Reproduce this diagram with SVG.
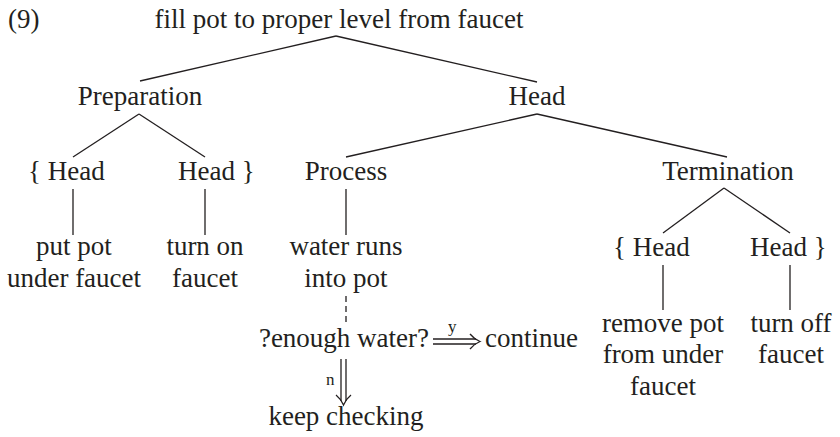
<svg xmlns="http://www.w3.org/2000/svg" width="840" height="437" viewBox="0 0 840 437">
  <style>
    text { font-family: "Liberation Serif", "Times New Roman", serif; font-size: 27px; fill: #231f20; }
    .c { text-anchor: middle; }
    .s { font-size: 17px; }
    .ln { stroke: #231f20; stroke-width: 1.3; fill: none; }
    .dash { stroke-dasharray: 6 4; }
  </style>
  <rect width="840" height="437" fill="#ffffff"/>

  <text x="8" y="28">(9)</text>

  <g id="connectors">
    <line class="ln" x1="336" y1="36" x2="140" y2="81"/>
    <line class="ln" x1="336" y1="36" x2="537" y2="82"/>
    <line class="ln" x1="139" y1="114" x2="73" y2="157"/>
    <line class="ln" x1="139" y1="114" x2="205" y2="157"/>
    <line class="ln" x1="537" y1="114" x2="346" y2="157"/>
    <line class="ln" x1="537" y1="114" x2="727" y2="157"/>
    <line class="ln" x1="73" y1="189" x2="73" y2="235"/>
    <line class="ln" x1="205" y1="189" x2="205" y2="235"/>
    <line class="ln" x1="346" y1="189" x2="346" y2="235"/>
    <line class="ln dash" x1="346" y1="296" x2="346" y2="326"/>
    <line class="ln" x1="724" y1="188" x2="663" y2="233"/>
    <line class="ln" x1="724" y1="188" x2="790" y2="233"/>
    <line class="ln" x1="663" y1="265" x2="663" y2="310"/>
    <line class="ln" x1="790" y1="265" x2="790" y2="310"/>
    <!-- yes: double arrow to the right -->
    <g id="arrow-y">
      <line class="ln" x1="433" y1="339" x2="476" y2="339"/>
      <line class="ln" x1="433" y1="344" x2="476" y2="344"/>
      <path class="ln" d="M470,334 Q474,339 480,341.5 Q474,344 470,349"/>
    </g>
    <!-- no: double arrow downward -->
    <g id="arrow-n">
      <line class="ln" x1="341" y1="359" x2="341" y2="401"/>
      <line class="ln" x1="346" y1="359" x2="346" y2="401"/>
      <path class="ln" d="M336,395 Q341,399 343.5,405 Q346,399 351,395"/>
    </g>
  </g>

  <g id="root"><text class="c" x="339" y="28">fill pot to proper level from faucet</text></g>
  <g id="preparation"><text class="c" x="140" y="105">Preparation</text></g>
  <g id="head-main"><text class="c" x="537" y="105">Head</text></g>

  <g id="prep-head-1"><text x="28" y="180">{ Head</text></g>
  <g id="prep-head-2"><text x="178" y="180">Head }</text></g>
  <g id="process"><text class="c" x="346" y="180">Process</text></g>
  <g id="termination"><text class="c" x="728" y="180">Termination</text></g>

  <g id="put-pot">
    <text class="c" x="74" y="255">put pot</text>
    <text class="c" x="74" y="287">under faucet</text>
  </g>
  <g id="turn-on">
    <text class="c" x="205" y="255">turn on</text>
    <text class="c" x="205" y="287">faucet</text>
  </g>
  <g id="water-runs">
    <text class="c" x="346" y="255">water runs</text>
    <text class="c" x="346" y="287">into pot</text>
  </g>

  <g id="enough-water"><text class="c" x="344" y="347">?enough water?</text></g>
  <g id="continue"><text x="485" y="347">continue</text></g>
  <g id="keep-checking"><text class="c" x="346" y="425">keep checking</text></g>
  <text class="s" x="448" y="332">y</text>
  <text class="s" x="326" y="385">n</text>

  <g id="term-head-1"><text x="613" y="256">{ Head</text></g>
  <g id="term-head-2"><text x="750" y="256">Head }</text></g>

  <g id="remove-pot">
    <text class="c" x="663" y="332">remove pot</text>
    <text class="c" x="663" y="363">from under</text>
    <text class="c" x="663" y="395">faucet</text>
  </g>
  <g id="turn-off">
    <text class="c" x="791" y="332">turn off</text>
    <text class="c" x="791" y="363">faucet</text>
  </g>
</svg>
